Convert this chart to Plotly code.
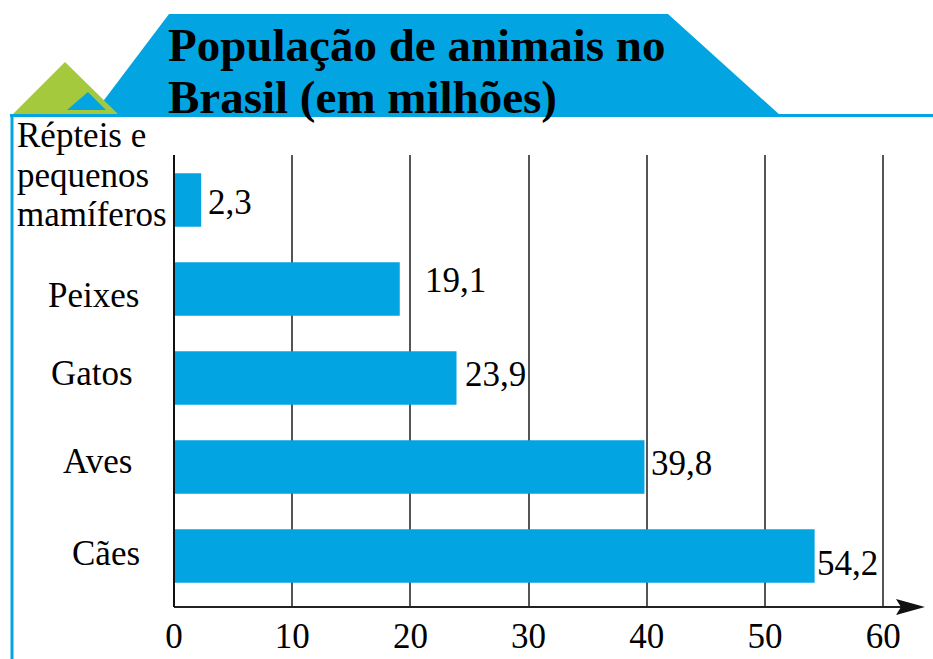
import plotly.graph_objects as go

# ---------------- data ----------------
categories = ["Cães", "Aves", "Gatos", "Peixes", "Répteis e<br>pequenos<br>mamíferos"]
values = [54.2, 39.8, 23.9, 19.1, 2.3]
value_labels = ["54,2", "39,8", "23,9", "19,1", "2,3"]
x_ticks = [0, 10, 20, 30, 40, 50, 60]
title_lines = ["População de animais no", "Brasil (em milhões)"]

# ---------------- style ----------------
W, H = 933, 659
L, R, T, B = 174, 9, 155, 52
PW, PH = W - L - R, H - T - B
BLUE = "#02A5E2"
GREEN = "#A4C93C"
FONT = "Liberation Serif"
FS = 35

def px(x):  # pixel x -> paper
    return (x - L) / PW

def py(y):  # pixel y -> paper
    return (H - B - y) / PH

def path(points):
    return "M " + " L ".join(f"{px(a):.5f},{py(b):.5f}" for a, b in points) + " Z"

fig = go.Figure()
fig.add_trace(go.Bar(
    x=values, y=categories, orientation="h",
    marker=dict(color=BLUE, line=dict(width=0)),
    width=0.6, hoverinfo="skip",
))

shapes = []
# header trapezoid
shapes.append(dict(type="path", xref="paper", yref="paper", layer="above",
                   path=path([(169, 14), (668, 14), (781, 116), (92, 116)]),
                   fillcolor=BLUE, line=dict(width=0)))
# green triangle with blue inner triangle
shapes.append(dict(type="path", xref="paper", yref="paper", layer="above",
                   path=path([(13, 114), (65, 62), (118, 114)]),
                   fillcolor=GREEN, line=dict(width=0)))
shapes.append(dict(type="path", xref="paper", yref="paper", layer="above",
                   path=path([(67, 110), (88, 92), (106, 110)]),
                   fillcolor=BLUE, line=dict(width=0)))
# frame lines
shapes.append(dict(type="line", xref="paper", yref="paper", layer="above",
                   x0=px(10), x1=px(933), y0=py(115.5), y1=py(115.5),
                   line=dict(color=BLUE, width=3)))
shapes.append(dict(type="line", xref="paper", yref="paper", layer="above",
                   x0=px(12), x1=px(12), y0=py(114), y1=py(659),
                   line=dict(color=BLUE, width=3)))
# x axis line with arrow
shapes.append(dict(type="line", xref="paper", yref="paper", layer="above",
                   x0=px(174), x1=px(902), y0=py(607), y1=py(607),
                   line=dict(color="#222222", width=2)))
shapes.append(dict(type="path", xref="paper", yref="paper", layer="above",
                   path=path([(896, 599), (925, 607), (896, 615), (901, 607)]),
                   fillcolor="#111111", line=dict(width=0)))
# y axis line
shapes.append(dict(type="line", xref="paper", yref="paper", layer="above",
                   x0=px(174), x1=px(174), y0=py(155), y1=py(607),
                   line=dict(color="#111111", width=2)))

annotations = []
# title
for txt, base in zip(title_lines, [45, 97]):
    annotations.append(dict(text=f"<b>{txt}</b>", xref="paper", yref="paper",
                            x=px(166), y=py(base), xanchor="left", yanchor="middle",
                            showarrow=False, font=dict(family=FONT, size=47, color="black")))
# category labels
cat_x = [106, 97, 92, 93, 15]
cat_anchor = ["center", "center", "center", "center", "left"]
cat_dy = [3, 6, 5, -6, 0]
multi_line_y = [135.5, 175.5, 214.5]
for c, cx, anc, dy in zip(categories, cat_x, cat_anchor, cat_dy):
    parts = c.split("<br>")
    if len(parts) == 1:
        annotations.append(dict(text=c, xref="paper", yref="y", x=px(cx), y=c,
                                xanchor=anc, yanchor="middle", yshift=dy,
                                showarrow=False, font=dict(family=FONT, size=FS, color="black")))
    else:
        for part, ly in zip(parts, multi_line_y):
            annotations.append(dict(text=part, xref="paper", yref="paper", x=px(cx), y=py(ly),
                                    xanchor=anc, yanchor="middle",
                                    showarrow=False, font=dict(family=FONT, size=FS, color="black")))
# value labels
lab_dx = [0, 5, 6, 23, 5]
lab_dy = [-7, 4, 4, 9, -2]
for v, c, t, dx, dy in zip(values, categories, value_labels, lab_dx, lab_dy):
    annotations.append(dict(text=t, x=v, y=c, xref="x", yref="y", xanchor="left",
                            yanchor="middle", xshift=dx, yshift=dy, showarrow=False,
                            font=dict(family=FONT, size=FS, color="black")))

fig.update_layout(
    width=W, height=H,
    margin=dict(l=L, r=R, t=T, b=B, pad=0, autoexpand=False),
    paper_bgcolor="white", plot_bgcolor="white",
    showlegend=False, bargap=0.4,
    shapes=shapes, annotations=annotations,
    font=dict(family=FONT, size=FS, color="black"),
)
fig.update_xaxes(range=[0, PW / 11.82], tickvals=x_ticks, ticktext=[str(t) for t in x_ticks],
                 showgrid=True, gridcolor="#555555", gridwidth=2, zeroline=False,
                 showline=False, ticks="", ticklabelstandoff=5, automargin=False,
                 tickfont=dict(family=FONT, size=FS, color="black"), fixedrange=True)
fig.update_yaxes(type="category", categoryorder="array", categoryarray=categories,
                 range=[-0.573, 4.506], showticklabels=False, showgrid=False, automargin=False,
                 zeroline=False, showline=False, ticks="", fixedrange=True)

fig.write_html("out.html")
